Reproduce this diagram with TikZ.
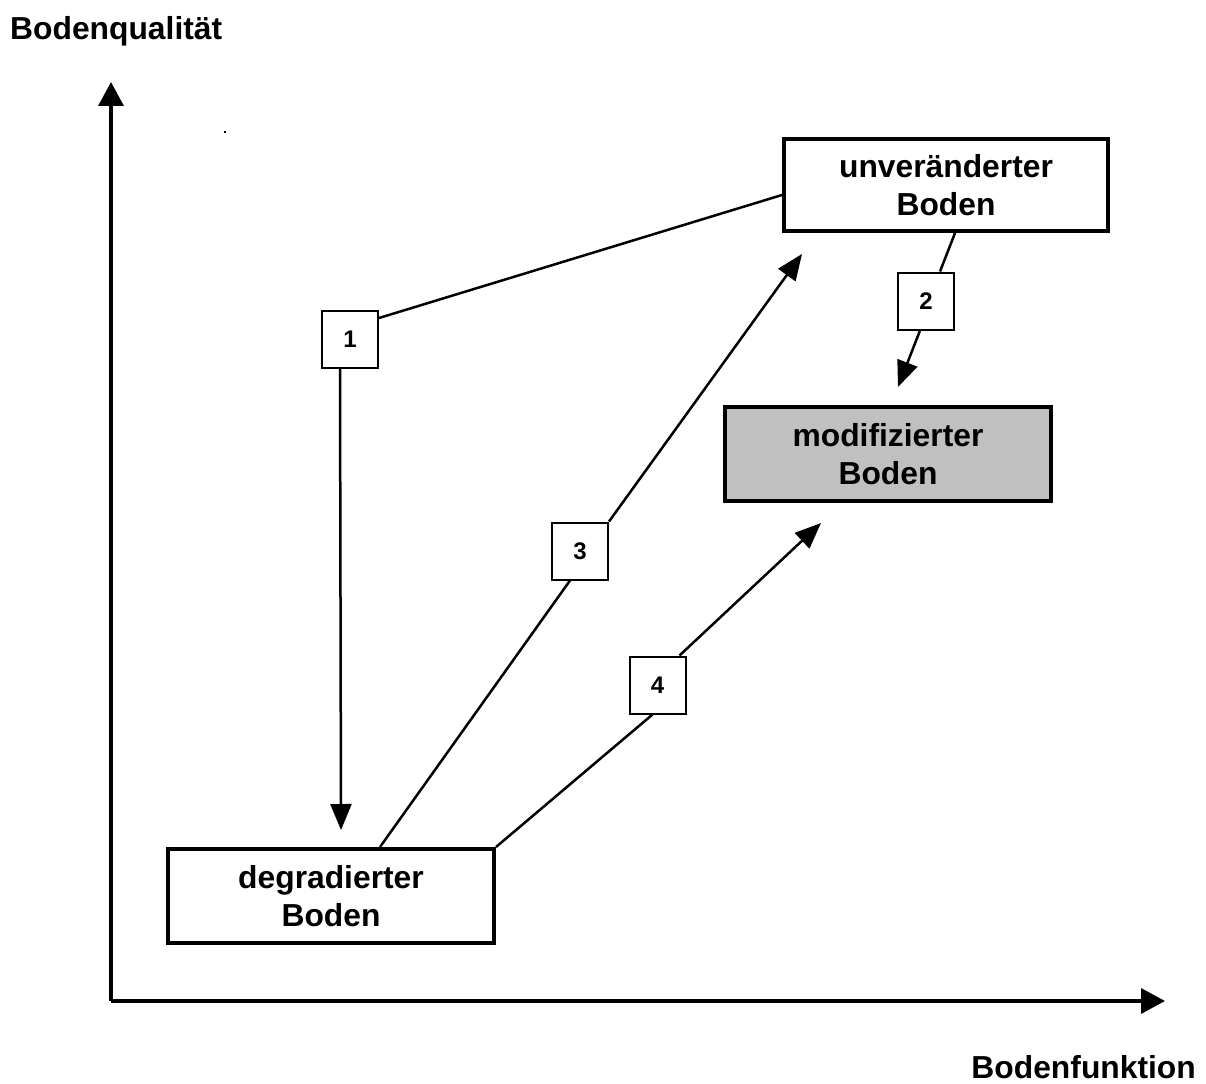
\documentclass[tikz,border=0pt]{standalone}
\usepackage{fontspec}
\setmainfont{Liberation Sans}
\usetikzlibrary{arrows.meta,calc}
\definecolor{boxgray}{HTML}{C0C0C0}
\begin{document}
\begin{tikzpicture}[x=1pt,y=-1pt,
  bigbox/.style={draw,line width=4pt,rectangle,minimum width=326pt,minimum height=94pt,inner sep=0pt,align=center,font=\fontsize{31.8}{37.5}\selectfont\bfseries},
  numbox/.style={draw,line width=2pt,rectangle,minimum width=56pt,minimum height=57pt,inner sep=0pt,fill=white,font=\fontsize{24}{28}\selectfont\bfseries},
  axislabel/.style={inner sep=0pt,font=\fontsize{31.8}{37}\selectfont\bfseries},
  conn/.style={line width=2.5pt},
  connarrow/.style={line width=2.5pt,-{Triangle[length=26pt,width=21pt]}},
  axis/.style={line width=3.5pt,-{Triangle[length=24pt,width=25pt]}}]
\useasboundingbox (0,0) rectangle (1206,1083);
% axes
\coordinate (O) at (111,1001);
\coordinate (Ytip) at (111,82);
\coordinate (Xtip) at (1165,1001);
\draw[axis] (O) -- (Ytip);
\draw[axis] (O) -- (Xtip);
\node[axislabel,anchor=base west] (ylab) at (10,40) {Bodenqualität};
\node[axislabel,anchor=base east] (xlab) at (1196,1078) {Bodenfunktion};
\fill (224,131) rectangle (226,133);
% boxes
\node[bigbox,minimum width=324pt,minimum height=92pt] (unv) at (946,185) {unveränderter\\Boden};
\node[bigbox,fill=boxgray] (mod) at (888,454) {modifizierter\\Boden};
\node[bigbox] (deg) at (331,896) {degradierter\\Boden};
% number boxes
\node[numbox] (b1) at (350,339.5) {1};
\node[numbox] (b2) at (926,301) {2};
\node[numbox] (b3) at (580,551) {3};
\node[numbox] (b4) at (657.5,685) {4};
% arrow tips
\coordinate (t1) at (341,830);
\coordinate (t2) at (898,387);
\coordinate (t3) at (802,254);
\coordinate (t4) at (821,523);
% connectors
\draw[conn] ([yshift=-10pt]unv.west) -- ([yshift=21.5pt]b1.east);
\draw[connarrow] ([xshift=-10pt]b1.south) -- (t1);
\draw[conn] ([xshift=9pt]unv.south) -- ([xshift=14pt]b2.north);
\draw[connarrow] ([xshift=-6pt]b2.south) -- (t2);
\draw[conn] ([xshift=49pt]deg.north) -- ([xshift=-10pt]b3.south);
\draw[connarrow] (b3.north east) -- (t3);
\draw[conn] (deg.north east) -- ([xshift=-5pt]b4.south);
\draw[connarrow] ([xshift=22pt]b4.north) -- (t4);
\end{tikzpicture}
\end{document}
